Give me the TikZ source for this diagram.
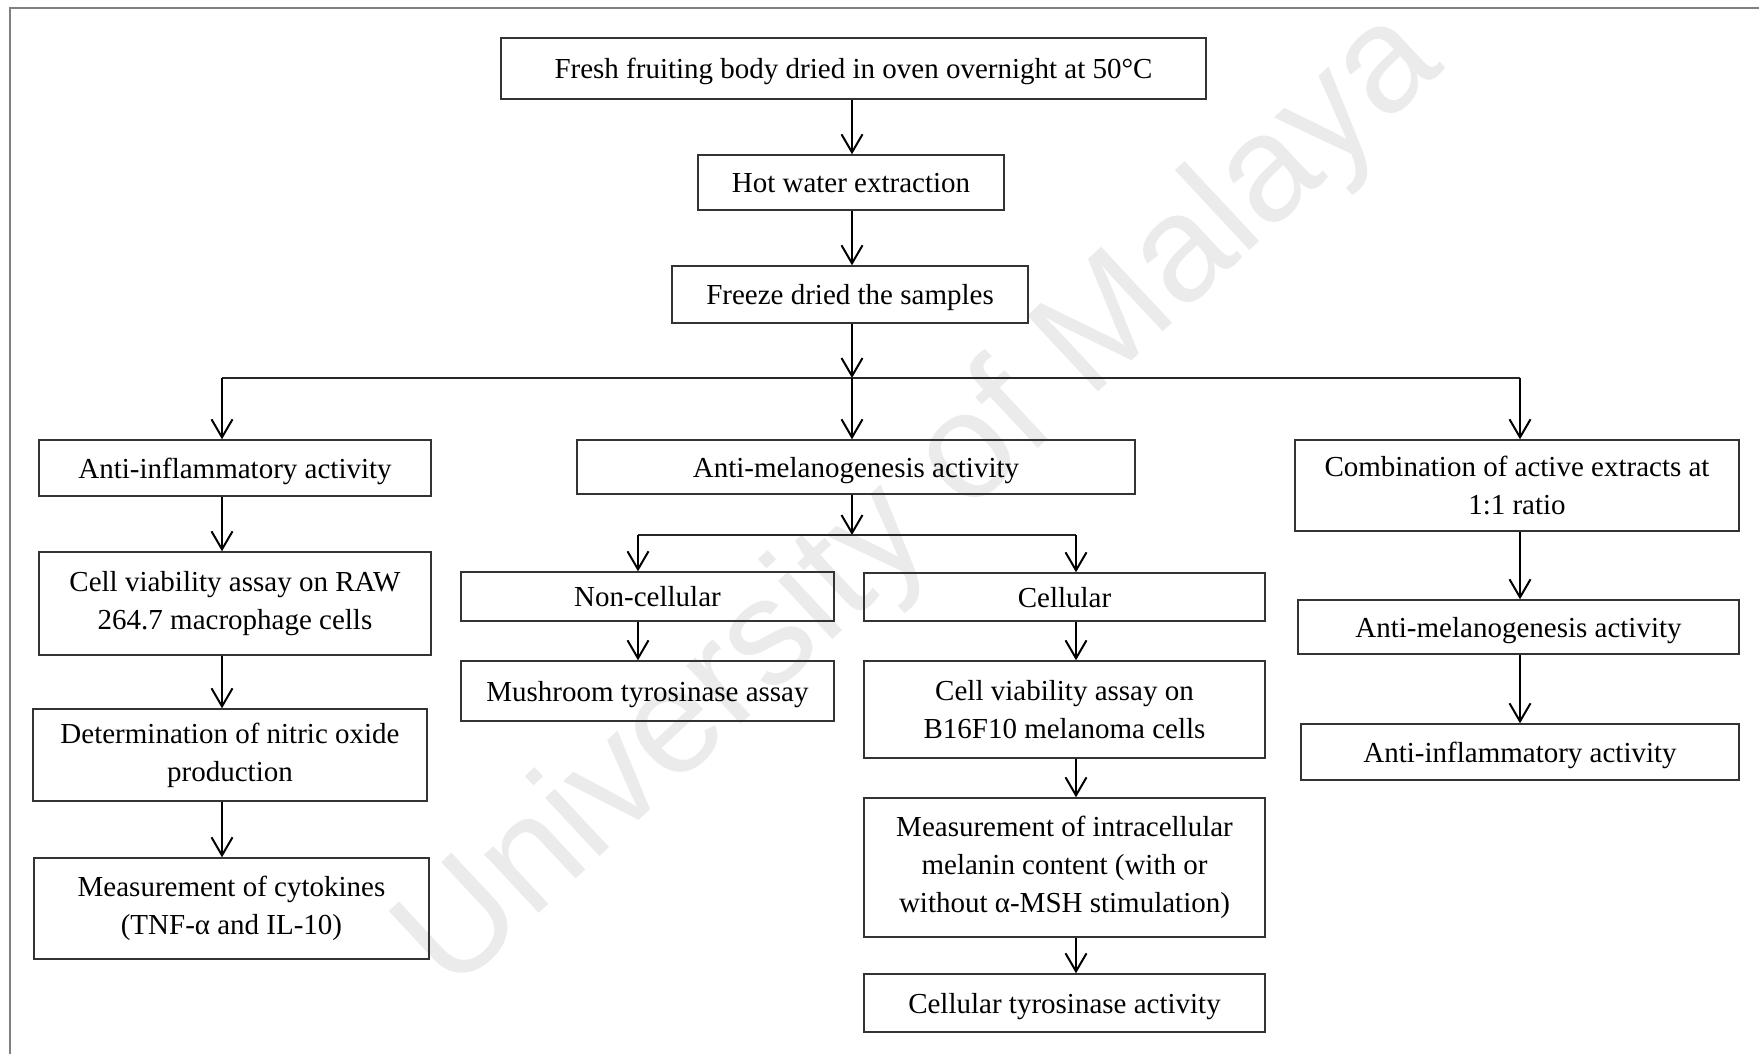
\documentclass[tikz,border=0pt]{standalone}
\usepackage{fontspec}
\setmainfont{Liberation Serif}
\newfontfamily\wmfont{Liberation Sans}
\usetikzlibrary{arrows.meta}
\begin{document}
\begin{tikzpicture}[x=1pt,y=-1pt,
  box/.style={draw=black!80, line width=1.4pt, inner sep=0pt, align=center, font=\fontsize{29}{38}\selectfont},
  one/.style={box, text depth=0pt},
  arr/.style={line width=2pt, -{Straight Barb[length=18pt,width=21pt,line width=2pt]}},
  link/.style={line width=1.4pt, draw=black!85},
  frame/.style={line width=2.5pt, draw=black!50},
  watermark/.style={text=black!8, font=\wmfont\fontsize{151}{151}\selectfont}]
\useasboundingbox (0,0) rectangle (1759,1054);
\fill[white] (0,0) rectangle (1759,1054);
\draw[frame] (10,1060) -- (10,8) -- (1765,8);
\node[watermark, rotate=43] (wm) at (922,503) {University of Malaya};

% column coordinates
\coordinate (cc) at (852,378);
\coordinate (cl) at (222,378);
\coordinate (cr) at (1520,378);
\coordinate (sj) at (852,535);
\coordinate (sl) at (638,535);
\coordinate (sr) at (1076,535);

% top chain
\node[one, minimum width=705, minimum height=61] (b1) at (853.5,68.5) {Fresh fruiting body dried in oven overnight at 50°C};
\node[one, minimum width=306, minimum height=55] (b2) at (851,182.5) {Hot water extraction};
\node[one, minimum width=356, minimum height=57] (b3) at (850,294.5) {Freeze dried the samples};

% second level
\node[one, minimum width=392, minimum height=56] (ai) at (235,468) {Anti-inflammatory activity};
\node[one, minimum width=558, minimum height=54] (am) at (856,467) {Anti-melanogenesis activity};
\node[box, minimum width=444, minimum height=91] (comb) at (1517,485.5) {Combination of active extracts at\\1:1 ratio};

% left column
\node[box, minimum width=392, minimum height=103] (cv1) at (235,603.5) {Cell viability assay on RAW\\264.7 macrophage cells};
\node[box, minimum width=394, minimum height=92] (det) at (230,755) {Determination of nitric oxide\\production};
\node[box, minimum width=395, minimum height=101] (mc) at (231.5,908.5) {Measurement of cytokines\\(TNF-α and IL-10)};

% middle columns
\node[one, minimum width=373, minimum height=49] (nc) at (647.5,596.5) {Non-cellular};
\node[one, minimum width=373, minimum height=60] (mush) at (647.5,691) {Mushroom tyrosinase assay};
\node[one, minimum width=401, minimum height=48] (cel) at (1064.5,597) {Cellular};
\node[box, minimum width=401, minimum height=97] (cv2) at (1064.5,709.5) {Cell viability assay on\\B16F10 melanoma cells};
\node[box, minimum width=401, minimum height=139] (mic) at (1064.5,867.5) {Measurement of intracellular\\melanin content (with or\\without α-MSH stimulation)};
\node[one, minimum width=401, minimum height=58] (ct) at (1064.5,1003) {Cellular tyrosinase activity};

% right column
\node[one, minimum width=441, minimum height=54] (am2) at (1518.5,627) {Anti-melanogenesis activity};
\node[one, minimum width=438, minimum height=56] (ai2) at (1520,752) {Anti-inflammatory activity};

% connectors
\draw[arr] (b1.south -| cc) -- (b2.north -| cc);
\draw[arr] (b2.south -| cc) -- (b3.north -| cc);
\draw[arr] (b3.south -| cc) -- (cc);
\draw[link] (cl) -- (cr);
\draw[arr] (cc) -- (am.north -| cc);
\draw[arr] (cl) -- (ai.north -| cl);
\draw[arr] (cr) -- (comb.north -| cr);

\draw[arr] (ai.south -| cl) -- (cv1.north -| cl);
\draw[arr] (cv1.south -| cl) -- (det.north -| cl);
\draw[arr] (det.south -| cl) -- (mc.north -| cl);

\draw[arr] (am.south -| sj) -- (sj);
\draw[link] (sl) -- (sr);
\draw[arr] (sl) -- (nc.north -| sl);
\draw[arr] (sr) -- (cel.north -| sr);
\draw[arr] (nc.south -| sl) -- (mush.north -| sl);
\draw[arr] (cel.south -| sr) -- (cv2.north -| sr);
\draw[arr] (cv2.south -| sr) -- (mic.north -| sr);
\draw[arr] (mic.south -| sr) -- (ct.north -| sr);

\draw[arr] (comb.south -| cr) -- (am2.north -| cr);
\draw[arr] (am2.south -| cr) -- (ai2.north -| cr);
\end{tikzpicture}
\end{document}
